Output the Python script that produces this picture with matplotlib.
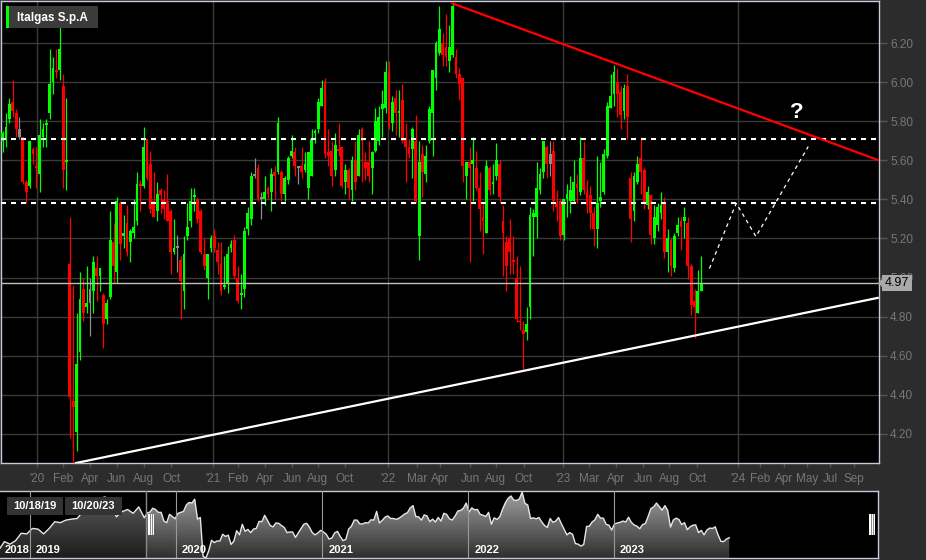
import matplotlib
matplotlib.use('Agg')
import matplotlib.pyplot as plt
import matplotlib.dates as mdates
from matplotlib.patches import Rectangle, Polygon
from matplotlib.colors import LinearSegmentedColormap
from matplotlib.ticker import FormatStrFormatter
import numpy as np
import pandas as pd

plt.rcParams['font.family'] = ['Liberation Sans', 'DejaVu Sans']

# weekly candles (Monday of each week)
weeks = pd.date_range('2019-10-14', periods=210, freq='7D')
opens = [5.78, 5.70, 5.71, 5.81, 5.90, 5.84, 5.72, 5.72, 5.49, 5.47, 5.66, 5.57, 5.53, 5.72, 5.78, 5.84, 6.00, 6.06, 6.06, 5.98,
         5.59, 5.07, 4.37, 4.21, 4.62, 4.94, 4.85, 4.94, 4.93, 5.05, 5.01, 4.91, 4.79, 4.90, 5.18, 5.03, 5.38, 5.21, 5.28, 5.18,
         5.23, 5.29, 5.48, 5.47, 5.71, 5.58, 5.39, 5.34, 5.45, 5.40, 5.39, 5.34, 5.13, 5.16, 5.09, 4.93, 5.21, 5.29, 5.41, 5.40,
         5.34, 5.12, 5.00, 5.15, 5.21, 5.14, 5.07, 4.95, 4.97, 5.15, 5.19, 5.00, 4.91, 4.94, 5.25, 5.30, 5.53, 5.56, 5.41, 5.40,
         5.46, 5.44, 5.54, 5.54, 5.54, 5.43, 5.50, 5.62, 5.64, 5.56, 5.57, 5.55, 5.46, 5.52, 5.74, 5.76, 5.88, 6.00, 5.64, 5.65,
         5.55, 5.66, 5.67, 5.49, 5.55, 5.45, 5.60, 5.52, 5.76, 5.59, 5.59, 5.56, 5.65, 5.70, 5.86, 5.87, 6.05, 5.79, 5.92, 5.84,
         5.91, 5.71, 5.67, 5.66, 5.70, 5.21, 5.63, 5.53, 5.70, 5.84, 6.02, 6.15, 6.20, 6.18, 6.11, 6.14, 6.13, 6.04, 6.02, 5.52,
         5.59, 5.58, 5.56, 5.46, 5.31, 5.23, 5.56, 5.48, 5.52, 5.58, 5.29, 5.18, 5.20, 5.09, 5.00, 4.78, 4.73, 4.72, 4.85, 5.31,
         5.31, 5.45, 5.54, 5.67, 5.63, 5.65, 5.38, 5.39, 5.22, 5.40, 5.39, 5.39, 5.48, 5.44, 5.61, 5.44, 5.42, 5.33, 5.25, 5.39,
         5.44, 5.62, 5.87, 5.94, 6.00, 5.95, 5.85, 5.98, 5.51, 5.34, 5.49, 5.61, 5.55, 5.37, 5.42, 5.20, 5.27, 5.33, 5.38, 5.13,
         5.19, 5.05, 5.23, 5.29, 5.29, 5.28, 5.06, 4.88, 4.82, 4.93]
highs = [5.79, 5.75, 5.84, 5.92, 6.01, 5.86, 5.82, 5.72, 5.50, 5.70, 5.67, 5.67, 5.81, 5.79, 5.81, 6.17, 6.13, 6.17, 6.28, 6.04,
         5.92, 5.31, 4.96, 4.82, 5.03, 5.00, 5.06, 5.00, 5.11, 5.11, 5.05, 4.92, 4.89, 5.34, 5.28, 5.41, 5.39, 5.32, 5.37, 5.25,
         5.40, 5.54, 5.50, 5.77, 5.71, 5.65, 5.54, 5.49, 5.46, 5.45, 5.53, 5.35, 5.30, 5.22, 5.11, 5.21, 5.38, 5.46, 5.46, 5.41,
         5.35, 5.20, 5.12, 5.22, 5.25, 5.18, 5.18, 5.11, 5.16, 5.19, 5.22, 5.06, 5.02, 5.26, 5.36, 5.54, 5.61, 5.58, 5.44, 5.52,
         5.47, 5.56, 5.57, 5.82, 5.55, 5.52, 5.62, 5.73, 5.67, 5.57, 5.67, 5.64, 5.64, 5.76, 5.76, 5.92, 6.01, 6.02, 5.76, 5.70,
         5.74, 5.79, 5.67, 5.58, 5.56, 5.62, 5.70, 5.76, 5.77, 5.64, 5.70, 5.65, 5.87, 5.88, 5.96, 6.11, 6.11, 5.93, 5.96, 5.96,
         5.99, 5.79, 5.71, 5.77, 5.83, 5.70, 5.68, 5.68, 5.88, 6.06, 6.21, 6.39, 6.25, 6.35, 6.29, 6.41, 6.17, 6.07, 6.02, 5.59,
         5.67, 5.72, 5.65, 5.54, 5.39, 5.60, 5.57, 5.58, 5.69, 5.60, 5.37, 5.21, 5.30, 5.21, 5.11, 5.06, 4.78, 4.85, 5.36, 5.35,
         5.59, 5.56, 5.70, 5.68, 5.70, 5.70, 5.45, 5.40, 5.40, 5.48, 5.52, 5.60, 5.53, 5.72, 5.70, 5.50, 5.47, 5.36, 5.62, 5.59,
         5.66, 5.90, 6.04, 6.09, 6.07, 5.98, 5.99, 6.04, 5.54, 5.54, 5.62, 5.72, 5.56, 5.47, 5.43, 5.37, 5.38, 5.44, 5.41, 5.25,
         5.20, 5.23, 5.31, 5.31, 5.36, 5.31, 5.07, 4.94, 5.04, 5.11]
lows = [5.59, 5.64, 5.67, 5.79, 5.82, 5.72, 5.71, 5.48, 5.38, 5.46, 5.58, 5.46, 5.44, 5.67, 5.67, 5.81, 5.94, 6.02, 6.01, 5.46,
        5.45, 4.18, 4.05, 4.11, 4.58, 4.78, 4.82, 4.70, 4.82, 4.88, 4.93, 4.64, 4.76, 4.89, 4.97, 4.97, 5.09, 5.15, 5.11, 5.08,
        5.20, 5.27, 5.34, 5.46, 5.50, 5.33, 5.31, 5.29, 5.33, 5.30, 5.29, 5.02, 5.12, 5.03, 4.79, 4.84, 5.19, 5.26, 5.34, 5.28,
        5.12, 5.04, 4.89, 5.13, 5.13, 5.02, 4.91, 4.94, 4.92, 5.13, 4.99, 4.87, 4.84, 4.90, 5.22, 5.27, 5.51, 5.39, 5.30, 5.37,
        5.40, 5.34, 5.40, 5.53, 5.39, 5.39, 5.48, 5.61, 5.52, 5.48, 5.51, 5.54, 5.40, 5.52, 5.69, 5.74, 5.88, 5.61, 5.57, 5.47,
        5.52, 5.62, 5.46, 5.43, 5.40, 5.39, 5.45, 5.52, 5.49, 5.50, 5.49, 5.43, 5.64, 5.68, 5.72, 5.84, 5.76, 5.75, 5.73, 5.72,
        5.69, 5.49, 5.61, 5.51, 5.38, 5.09, 5.41, 5.49, 5.69, 5.62, 5.96, 6.14, 6.08, 6.08, 6.05, 6.13, 6.02, 5.91, 5.49, 5.40,
        5.08, 5.39, 5.45, 5.24, 5.12, 5.23, 5.42, 5.43, 5.50, 5.38, 5.01, 4.93, 5.02, 5.02, 4.77, 4.73, 4.53, 4.68, 4.79, 5.11,
        5.20, 5.43, 5.51, 5.51, 5.52, 5.34, 5.29, 5.19, 5.19, 5.31, 5.33, 5.38, 5.38, 5.42, 5.43, 5.33, 5.25, 5.16, 5.15, 5.36,
        5.43, 5.61, 5.87, 5.88, 5.82, 5.76, 5.81, 5.71, 5.18, 5.29, 5.48, 5.43, 5.35, 5.35, 5.17, 5.17, 5.24, 5.30, 5.10, 5.03,
        5.01, 5.03, 5.21, 5.14, 5.20, 4.99, 4.81, 4.69, 4.82, 4.93]
closes = [5.59, 5.74, 5.77, 5.89, 5.85, 5.76, 5.76, 5.49, 5.44, 5.70, 5.63, 5.56, 5.73, 5.76, 5.79, 5.99, 6.07, 6.05, 6.17, 5.55,
          5.60, 4.39, 4.34, 4.56, 4.89, 4.82, 4.87, 4.87, 5.08, 5.01, 5.05, 4.76, 4.87, 5.19, 5.06, 5.39, 5.17, 5.23, 5.13, 5.24,
          5.26, 5.48, 5.47, 5.67, 5.51, 5.35, 5.31, 5.43, 5.42, 5.35, 5.29, 5.13, 5.15, 5.15, 4.98, 5.12, 5.26, 5.39, 5.42, 5.30,
          5.13, 5.06, 5.12, 5.20, 5.15, 5.08, 4.93, 4.96, 5.12, 5.17, 5.01, 4.88, 4.92, 5.24, 5.33, 5.52, 5.52, 5.40, 5.40, 5.44,
          5.43, 5.53, 5.52, 5.79, 5.43, 5.51, 5.61, 5.65, 5.57, 5.57, 5.54, 5.58, 5.64, 5.71, 5.75, 5.90, 5.97, 5.63, 5.62, 5.52,
          5.68, 5.65, 5.47, 5.55, 5.46, 5.60, 5.49, 5.73, 5.70, 5.56, 5.52, 5.64, 5.80, 5.82, 5.89, 6.05, 5.77, 5.90, 5.84, 5.85,
          5.70, 5.67, 5.63, 5.76, 5.39, 5.59, 5.54, 5.62, 5.86, 6.06, 6.20, 6.27, 6.14, 6.13, 6.18, 6.39, 6.04, 5.99, 5.57, 5.59,
          5.56, 5.60, 5.46, 5.35, 5.29, 5.57, 5.45, 5.49, 5.60, 5.41, 5.23, 5.06, 5.13, 5.08, 4.79, 4.77, 4.71, 4.76, 5.32, 5.33,
          5.46, 5.53, 5.70, 5.58, 5.58, 5.39, 5.36, 5.21, 5.40, 5.43, 5.45, 5.49, 5.46, 5.61, 5.45, 5.37, 5.33, 5.25, 5.38, 5.41,
          5.63, 5.88, 5.93, 6.05, 5.94, 5.83, 5.97, 5.82, 5.30, 5.52, 5.58, 5.54, 5.38, 5.44, 5.22, 5.31, 5.36, 5.37, 5.13, 5.20,
          5.06, 5.21, 5.27, 5.26, 5.31, 5.06, 4.86, 4.85, 4.93, 4.97]

# navigator history before the visible window (two-weekly closes)
nav_pre_dates = pd.date_range('2018-10-15', periods=26, freq='14D')
nav_pre_close = [4.59, 4.85, 4.77, 4.88, 5.11, 5.09, 5.26, 5.24, 5.09, 5.26, 5.47, 5.44, 5.52,
                 5.55, 5.57, 5.78, 5.86, 5.93, 6.19, 6.24, 6.06, 5.62, 5.78, 5.85, 5.73, 5.93]

# drawn levels / trendlines / projection
support_levels = [5.71, 5.38]
last_price = 4.97
red_trend_x = ['2022-05-13', '2024-10-20']
red_trend_y = [6.405, 5.60]
white_trend_x = ['2020-03-20', '2024-10-20']
white_trend_y = [4.05, 4.897]
proj_x = ['2023-11-02', '2023-12-28', '2024-02-07', '2024-05-26']
proj_y = [5.046, 5.38, 5.21, 5.67]

tick_dates = ['2020-01-01', '2020-02-23', '2020-04-21', '2020-06-15', '2020-08-10', '2020-10-06',
              '2021-01-01', '2021-02-22', '2021-04-19', '2021-06-15', '2021-08-08', '2021-10-03',
              '2022-01-01', '2022-03-02', '2022-04-19', '2022-06-21', '2022-08-14', '2022-10-11',
              '2023-01-01', '2023-02-25', '2023-04-22', '2023-06-17', '2023-08-10', '2023-10-08',
              '2024-01-01', '2024-02-16', '2024-04-06', '2024-05-24', '2024-07-11', '2024-08-30']
tick_labels = ["'20", 'Feb', 'Apr', 'Jun', 'Aug', 'Oct',
               "'21", 'Feb', 'Apr', 'Jun', 'Aug', 'Oct',
               "'22", 'Mar', 'Apr', 'Jun', 'Aug', 'Oct',
               "'23", 'Mar', 'Apr', 'Jun', 'Aug', 'Oct',
               "'24", 'Feb', 'Apr', 'May', 'Jul', 'Sep']
years = [2019, 2020, 2021, 2022, 2023]

W, H = 926, 560
BG = '#2c2c2c'
BORDER = '#c4cad8'
GRID = '#3a3a3a'


def box(x0, y0, x1, y1):
    # pixel box (top-left origin) -> figure fraction rect
    return [x0 / W, 1 - y1 / H, (x1 - x0) / W, (y1 - y0) / H]


def px(x, y):
    return x / W, 1 - y / H


fig = plt.figure(figsize=(W / 100, H / 100), dpi=100, facecolor=BG)

# ---- main price chart ----
ax = fig.add_axes(box(1, 1, 879, 463))
ax.set_facecolor('black')

o, h, l, c = (np.array(v) for v in (opens, highs, lows, closes))
prev = np.r_[np.nan, c[:-1]]
col = np.where(c > o, '#00ff00', '#ff0000')
col = np.where(np.isclose(c, prev), '#8c8c8c', col)
ax.vlines(weeks, l, h, colors=col, lw=0.9, zorder=3)
ax.bar(weeks, np.maximum(np.abs(c - o), 0.006), bottom=np.minimum(o, c), width=5.8,
       color=col, linewidth=0, zorder=4)

yt = np.round(np.arange(4.2, 6.21, 0.2), 2)
for yv in yt:
    ax.axhline(yv, color=GRID, lw=1, zorder=1)
for yr in years[1:] + [2024]:
    ax.axvline(pd.Timestamp(yr, 1, 1), color=GRID, lw=1, zorder=1)

for lv in support_levels:
    ax.axhline(lv, color='white', lw=1.5, ls=(0, (2.4, 2.4)), zorder=6)
ax.axhline(last_price, color='#bdbdbd', lw=1, zorder=5)
ax.plot(pd.to_datetime(red_trend_x), red_trend_y, color='#ff0000', lw=1.6, zorder=6, solid_capstyle='butt')
ax.plot(pd.to_datetime(white_trend_x), white_trend_y, color='white', lw=1.6, zorder=6, solid_capstyle='butt')
ax.plot(pd.to_datetime(proj_x), proj_y, color='white', lw=0.9, ls=(0, (3, 3)), zorder=6)
ax.text(pd.Timestamp('2024-05-03'), 5.846, '?', color='white', fontsize=16, fontweight='bold',
        ha='center', va='center', zorder=7)

ax.set_xlim(pd.Timestamp('2019-10-17 12:00'), pd.Timestamp('2024-10-20 12:00'))
ax.set_ylim(4.051, 6.415)
ax.yaxis.tick_right()
ax.set_yticks(yt)
ax.yaxis.set_major_formatter(FormatStrFormatter('%.2f'))
ax.tick_params(axis='y', colors='#555555', labelcolor='#777777', length=6, width=1, labelsize=8.5, pad=2)
ax.set_xticks(pd.to_datetime(tick_dates))
ax.set_xticklabels(tick_labels)
ax.tick_params(axis='x', colors='#555555', labelcolor='#777777', length=3, width=1, labelsize=8.5, pad=4)
for s in ax.spines.values():
    s.set_color(BORDER)
    s.set_linewidth(1)

# last price label at the right axis (covers the 5.00 label as in the original)
fig.patches.append(Rectangle(px(882, 291), 30 / W, 16 / H, transform=fig.transFigure,
                             facecolor='#a9a9a9', edgecolor='none', zorder=10))
fig.patches.append(Polygon([px(878, 283), px(882, 279), px(882, 287)], closed=True,
                           transform=fig.transFigure, facecolor='#a9a9a9', edgecolor='none', zorder=10))
fig.text(*px(897, 283.5), f'{last_price:.2f}', color='black', fontsize=9, ha='center', va='center', zorder=11)

# legend box
fig.patches.append(Rectangle(px(6, 28), 92 / W, 22 / H, transform=fig.transFigure,
                             facecolor='#3b3b3b', edgecolor='none', zorder=10))
fig.patches.append(Rectangle(px(6, 28), 3 / W, 22 / H, transform=fig.transFigure,
                             facecolor='#00ff00', edgecolor='none', zorder=11))
fig.text(*px(17, 17.5), 'Italgas S.p.A', color='white', fontsize=8.5, fontweight='bold',
         ha='left', va='center', zorder=12)

# ---- navigator ----
nav = fig.add_axes(box(0, 491, 878, 558))
nav.set_facecolor('black')
nav_x = list(nav_pre_dates) + list(weeks)
nav_y = list(nav_pre_close) + list(closes)
lo, hi = min(nav_y), max(nav_y) + 0.035
xs = mdates.date2num(pd.to_datetime(nav_x))
verts = [(xs[0], lo - 1)] + list(zip(xs, nav_y)) + [(xs[-1], lo - 1)]
area = Polygon(verts, closed=True, facecolor='none', edgecolor='none')
nav.add_patch(area)
grad = np.linspace(1, 0, 256).reshape(-1, 1)
cmap = LinearSegmentedColormap.from_list('nav', ['#2e2e2e', '#a2a2a2'])
im = nav.imshow(grad, extent=[xs[0], xs[-1], lo, hi], aspect='auto', cmap=cmap, zorder=2)
im.set_clip_path(area)
nav.plot(xs, nav_y, color='#e6e6e6', lw=1, zorder=3)

sel_start = pd.Timestamp('2019-10-18')
nav_x0, nav_x1 = pd.Timestamp('2018-10-18'), pd.Timestamp('2024-10-22')
nav.axvspan(mdates.date2num(nav_x0), mdates.date2num(sel_start), color='black', alpha=0.4, lw=0, zorder=2.5)
nav.axvline(mdates.date2num(sel_start), color='#8a8a8a', lw=1, zorder=3)
for yr in years:
    d = mdates.date2num(pd.Timestamp(yr, 1, 1))
    nav.axvline(d, color='#9a9a9a', lw=0.8, zorder=3)
    nav.annotate(str(yr), xy=(d, 0), xycoords=('data', 'axes fraction'), xytext=(6, 3),
                 textcoords='offset pixels', color='white', fontsize=8, fontweight='bold',
                 ha='left', va='bottom', zorder=5)
nav.annotate(str(years[0] - 1), xy=(0, 0), xycoords='axes fraction', xytext=(5, 3),
             textcoords='offset pixels', color='white', fontsize=8, fontweight='bold',
             ha='left', va='bottom', zorder=5)
nav.set_xlim(mdates.date2num(nav_x0), mdates.date2num(nav_x1))
nav.set_ylim(lo, hi)
nav.set_xticks([])
nav.set_yticks([])
for k, s in nav.spines.items():
    s.set_color(BORDER)
    s.set_linewidth(1)
nav.spines['left'].set_visible(False)

# navigator handles
for hx in (148, 869):
    fig.patches.append(Rectangle(px(hx, 535), 6 / W, 21 / H, transform=fig.transFigure,
                                 facecolor='white', edgecolor='none', zorder=10))
    for gx in (hx + 2, hx + 4):
        fig.patches.append(Rectangle(px(gx, 535), 0.8 / W, 21 / H, transform=fig.transFigure,
                                     facecolor='#8a8a8a', edgecolor='none', zorder=11))

# range labels
for (bx0, bx1), txt in zip([(7, 63), (65, 122)], ['10/18/19', '10/20/23']):
    fig.patches.append(Rectangle(px(bx0, 515), (bx1 - bx0) / W, 18 / H, transform=fig.transFigure,
                                 facecolor='#333333', edgecolor='none', zorder=10))
    fig.text(*px((bx0 + bx1) / 2, 506), txt, color='white', fontsize=8, fontweight='bold',
             ha='center', va='center', zorder=11)

fig.savefig('out.png', dpi=100, facecolor=BG)
